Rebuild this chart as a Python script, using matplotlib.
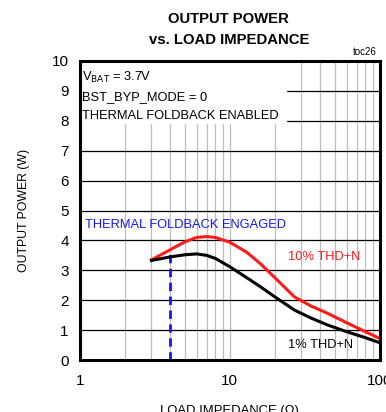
import numpy as np
import matplotlib
matplotlib.use("Agg")
import matplotlib.pyplot as plt
from matplotlib.ticker import FixedLocator, NullFormatter

plt.rcParams["font.family"] = ["Liberation Sans", "DejaVu Sans"]

load_ohm = [3, 4, 5, 6, 7, 8, 10, 13, 16, 20, 27, 35, 45, 60, 80, 100]
thd10 = [3.35, 3.69, 3.95, 4.10, 4.13, 4.10, 3.94, 3.60, 3.22, 2.75, 2.11, 1.80, 1.56, 1.25, 0.95, 0.72]
thd1 = [3.33, 3.45, 3.52, 3.55, 3.50, 3.40, 3.12, 2.75, 2.45, 2.11, 1.67, 1.40, 1.17, 0.95, 0.75, 0.58]
foldback_x = 4.0
foldback_y = 3.69
y_ticks = list(range(0, 11))
x_ticks = [1, 10, 100]

fig = plt.figure(figsize=(3.86, 4.12), dpi=100)
ax = fig.add_axes([0.207, 0.126, 0.777, 0.726])

ax.set_xscale("log")
ax.set_xlim(1, 100)
ax.set_ylim(0, 10)

minor = [m * d for d in (1, 10) for m in range(2, 10)] + [10]
for xv in minor:
    ax.axvline(xv, color="#bdbdbd", lw=0.9, zorder=1)
for yv in y_ticks[1:-1]:
    ax.axhline(yv, color="black", lw=0.9, zorder=1)

# white patch behind the condition text
ax.fill_between([1, 23.5], 7.93, 10, color="white", zorder=2)

ax.plot(load_ohm, thd10, color="#ff1a1a", lw=2.2, zorder=4)
ax.plot(load_ohm, thd1, color="black", lw=2.2, zorder=4)
ax.plot([foldback_x, foldback_x], [0, foldback_y], color="#1414ff", lw=2, ls=(0, (3, 2)), zorder=3)

ax.xaxis.set_major_locator(FixedLocator(x_ticks))
ax.xaxis.set_minor_formatter(NullFormatter())
ax.set_xticklabels(["1", "10", "100"])
ax.set_yticks(y_ticks)
ax.tick_params(axis="both", which="both", length=0, labelsize=11, pad=8)
ax.tick_params(axis="x", pad=10)
for s in ax.spines.values():
    s.set_linewidth(2.2)
    s.set_zorder(5)

ax.set_xlabel("LOAD IMPEDANCE (\u03a9)", fontsize=9.4, labelpad=12)
ax.set_ylabel("OUTPUT POWER (W)", fontsize=8.8, labelpad=16)

ax.text(1.04, 9.45, "V$_{\\rm BAT}$ = 3.7V", fontsize=9.3, va="center", zorder=6)
ax.text(1.04, 8.8, "BST_BYP_MODE = 0", fontsize=9.3, va="center", zorder=6)
ax.text(1.04, 8.17, "THERMAL FOLDBACK ENABLED", fontsize=9.3, va="center", zorder=6)
ax.text(1.08, 4.53, "THERMAL FOLDBACK ENGAGED", fontsize=9.3, color="#1414ff", va="center", zorder=6)
ax.text(24.6, 3.43, "10% THD+N", fontsize=9.3, color="#ff1a1a", va="center", zorder=6)
ax.text(24.6, 0.5, "1% THD+N", fontsize=9.3, color="black", va="center", zorder=6)

fig.text(0.977, 0.862, "toc26", fontsize=7, ha="right", va="bottom")
fig.text(0.593, 0.954, "OUTPUT POWER", fontsize=10.7, fontweight="bold", ha="center", va="center")
fig.text(0.593, 0.903, "vs. LOAD IMPEDANCE", fontsize=10.7, fontweight="bold", ha="center", va="center")

fig.savefig("out.png", dpi=100)
